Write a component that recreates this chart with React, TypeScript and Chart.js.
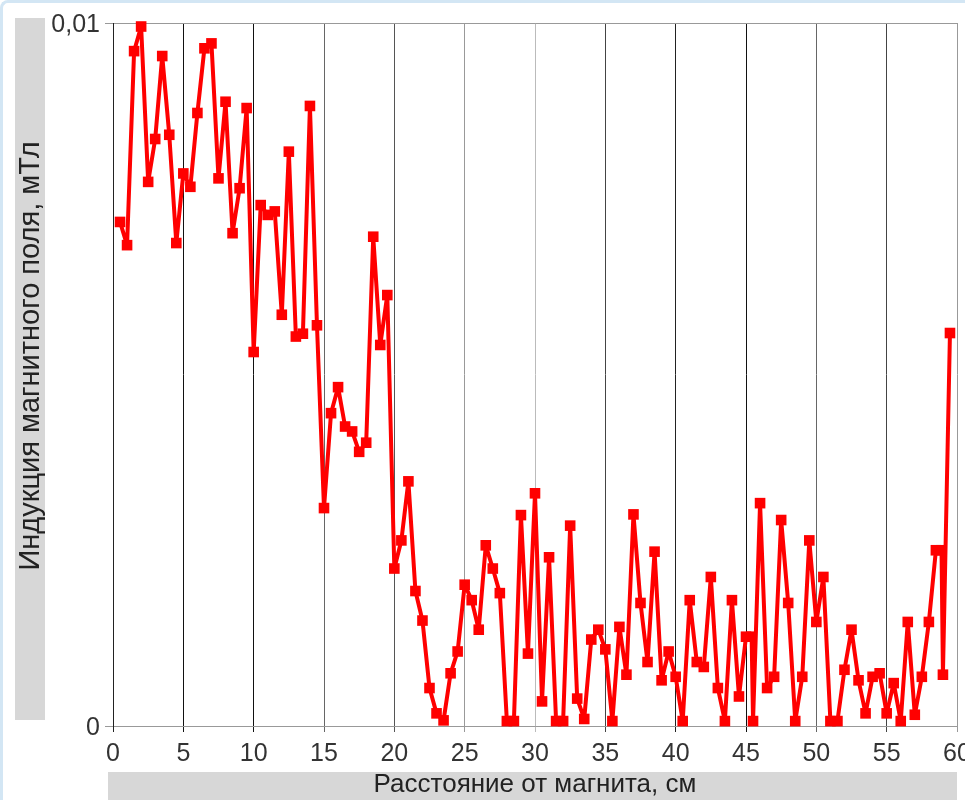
import React, { useEffect, useRef } from 'react';
import { Chart, registerables } from 'chart.js';

Chart.register(...registerables);

// Distance from the magnet, cm
const distanceCm = [
  0.5, 1.0, 1.5, 2.0, 2.5, 3.0, 3.5, 4.0, 4.5, 5.0,
  5.5, 6.0, 6.5, 7.0, 7.5, 8.0, 8.5, 9.0, 9.5, 10.0,
  10.5, 11.0, 11.5, 12.0, 12.5, 13.0, 13.5, 14.0, 14.5, 15.0,
  15.5, 16.0, 16.5, 17.0, 17.5, 18.0, 18.5, 19.0, 19.5, 20.0,
  20.5, 21.0, 21.5, 22.0, 22.5, 23.0, 23.5, 24.0, 24.5, 25.0,
  25.5, 26.0, 26.5, 27.0, 27.5, 28.0, 28.5, 29.0, 29.5, 30.0,
  30.5, 31.0, 31.5, 32.0, 32.5, 33.0, 33.5, 34.0, 34.5, 35.0,
  35.5, 36.0, 36.5, 37.0, 37.5, 38.0, 38.5, 39.0, 39.5, 40.0,
  40.5, 41.0, 41.5, 42.0, 42.5, 43.0, 43.5, 44.0, 44.5, 45.0,
  45.4, 45.5, 46.0, 46.5, 47.0, 47.5, 48.0, 48.5, 49.0, 49.5,
  50.0, 50.5, 51.0, 51.5, 52.0, 52.5, 53.0, 53.5, 54.0, 54.5,
  55.0, 55.5, 56.0, 56.5, 57.0, 57.5, 58.0, 58.5, 58.9, 59.0,
  59.5,
];

// Magnetic field induction, mT
const inductionMT = [
  0.00717, 0.00684, 0.0096, 0.00995, 0.00774, 0.00835, 0.00953, 0.00841, 0.00687, 0.00786,
  0.00767, 0.00872, 0.00964, 0.00971, 0.00779, 0.00888, 0.00701, 0.00765, 0.00879, 0.00532,
  0.00741, 0.00727, 0.00732, 0.00585, 0.00817, 0.00554, 0.00558, 0.00882, 0.0057, 0.0031,
  0.00445, 0.00482, 0.00426, 0.00419, 0.0039, 0.00403, 0.00696, 0.00542, 0.00613, 0.00224,
  0.00264, 0.00348, 0.00192, 0.0015, 0.00054, 0.00018, 0.00008, 0.00075, 0.00106, 0.00201,
  0.00179, 0.00137, 0.00257, 0.00224, 0.00189, 0.00007, 0.00007, 0.003, 0.00103, 0.00331,
  0.00035, 0.0024, 0.00007, 0.00007, 0.00285, 0.00039, 0.0001, 0.00123, 0.00137, 0.00109,
  0.00007, 0.00141, 0.00073, 0.00301, 0.00175, 0.00091, 0.00248, 0.00065, 0.00106, 0.0007,
  0.00007, 0.00179, 0.00091, 0.00084, 0.00212, 0.00054, 0.00007, 0.00179, 0.00042, 0.00127,
  0.00127, 0.00007, 0.00317, 0.00054, 0.0007, 0.00293, 0.00175, 0.00007, 0.0007, 0.00264,
  0.00148, 0.00212, 0.00007, 0.00007, 0.0008, 0.00137, 0.00065, 0.00018, 0.0007, 0.00075,
  0.00018, 0.00061, 0.00007, 0.00148, 0.00016, 0.0007, 0.00148, 0.0025, 0.0025, 0.00073,
  0.00559,
];

const yTickLabels = ['0', '0,01'];
const xTitle = 'Расстояние от магнита, см';
const yTitle = 'Индукция магнитного поля, мТл';

// vertical grid line shades (style only)
const xGridColors = ['#222', '#111', '#111', '#666', '#555', '#999', '#bbb', '#444', '#222', '#111', '#666', '#444', '#999'];

const FONT = "'Liberation Sans', Arial, sans-serif";

export default function App() {
  const ref = useRef<HTMLCanvasElement>(null);

  useEffect(() => {
    const canvas = ref.current;
    if (!canvas) return;
    const points = distanceCm.map((x, i) => ({ x, y: inductionMT[i] }));

    const bandPlugin = {
      id: 'titleBands',
      beforeDraw(chart: any) {
        const c = chart.ctx;
        const a = chart.chartArea;
        c.save();
        c.fillStyle = '#d7d7d7';
        c.fillRect(15, a.top - 5, 30, a.bottom - a.top - 1);
        c.fillRect(a.left - 5, 772, a.right - a.left + 5, 30);
        // vertical axis title
        c.translate(30, 356);
        c.rotate(-Math.PI / 2);
        c.fillStyle = '#222';
        c.font = `29px ${FONT}`;
        c.textAlign = 'center';
        c.textBaseline = 'middle';
        c.fillText(yTitle, 0, 1);
        c.restore();
      },
    };

    const chart = new Chart(canvas, {
      type: 'line',
      data: {
        datasets: [
          {
            label: yTitle,
            data: points,
            borderColor: '#ff0000',
            backgroundColor: '#ff0000',
            borderWidth: 4,
            borderJoinStyle: 'round',
            pointStyle: 'rect',
            pointRadius: 7.5,
            pointHoverRadius: 7.5,
            pointBorderWidth: 0,
            tension: 0,
            clip: false as any,
          },
        ],
      },
      options: {
        animation: false,
        responsive: false,
        events: [],
        layout: { padding: { left: 0, right: 8, top: 23, bottom: 0 } },
        plugins: { legend: { display: false }, tooltip: { enabled: false } },
        scales: {
          x: {
            type: 'linear',
            min: 0,
            max: 60,
            ticks: {
              stepSize: 5,
              color: '#333',
              font: { family: FONT, size: 25 },
              padding: 7,
              maxRotation: 0,
            },
            grid: {
              color: (ctx: any) => xGridColors[ctx.index] ?? '#444',
              tickLength: 6,
              lineWidth: 1,
            },
            border: { color: '#999' },
            title: {
              display: true,
              text: xTitle,
              color: '#222',
              font: { family: FONT, size: 26 },
              padding: { top: 0, bottom: 0 },
            },
            afterFit: (s: any) => {
              s.height = 74;
              s.paddingLeft = 0;
              s.paddingRight = 0;
            },
          },
          y: {
            type: 'linear',
            min: 0,
            max: 0.01,
            ticks: {
              stepSize: 0.01,
              color: '#333',
              font: { family: FONT, size: 25 },
              padding: 5,
              labelOffset: 2,
              callback: (_v: any, i: number) => yTickLabels[i],
            },
            grid: { color: '#999', tickLength: 8, lineWidth: 1 },
            border: { color: '#222' },
            title: { display: false, text: yTitle },
            afterFit: (s: any) => {
              s.width = 113;
              s.paddingTop = 0;
              s.paddingBottom = 0;
            },
          },
        },
      },
      plugins: [bandPlugin],
    });
    return () => chart.destroy();
  }, []);

  return (
    <div
      style={{
        position: 'fixed',
        left: 0,
        top: 0,
        width: 965,
        height: 800,
        background: '#fff',
        overflow: 'hidden',
      }}
    >
      <div
        style={{
          position: 'absolute',
          left: 0,
          top: 0,
          width: 965,
          height: 800,
          boxSizing: 'border-box',
          borderTop: '3px solid #d3e6f4',
          borderLeft: '3px solid #d3e6f4',
          borderTopLeftRadius: 8,
        }}
      />
      <canvas ref={ref} width={965} height={800} style={{ position: 'absolute', left: 0, top: 0 }} />
    </div>
  );
}
